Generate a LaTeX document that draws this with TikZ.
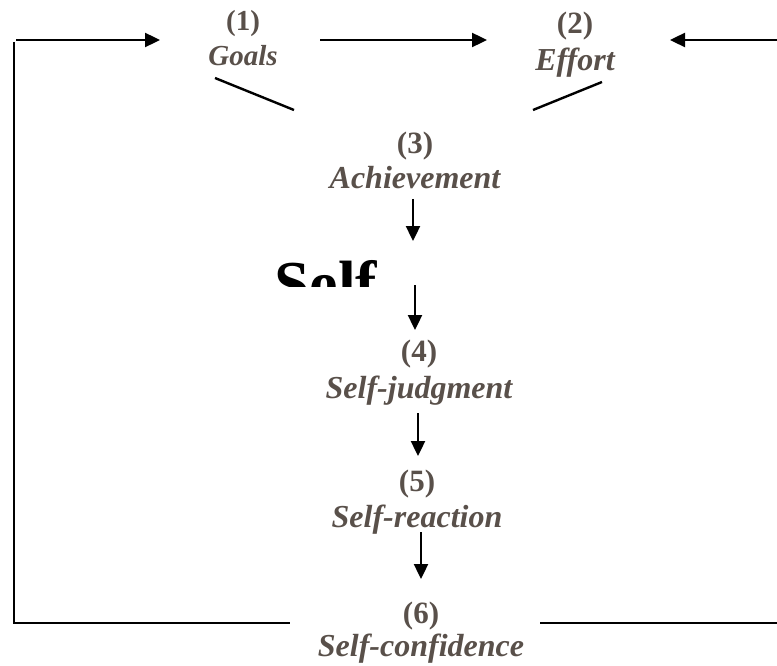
\documentclass[tikz,border=0pt]{standalone}
\usepackage{fontspec}
\setmainfont{Liberation Serif}
\usetikzlibrary{arrows.meta}
\definecolor{txt}{RGB}{89,80,74}
\begin{document}
\begin{tikzpicture}[x=1pt,y=-1pt,
  num/.style={font=\fontsize{31}{31}\selectfont\bfseries, text=txt, inner sep=0pt},
  lbl/.style={font=\fontsize{32}{32}\selectfont\bfseries\itshape, text=txt, inner sep=0pt, anchor=base},
  small/.style={font=\fontsize{29}{29}\selectfont\bfseries},
  smalli/.style={font=\fontsize{29}{29}\selectfont\bfseries\itshape},
  conn/.style={line width=2.4pt},
  arr/.style={line width=2.4pt,-{Triangle[length=15pt,width=14pt]}}]
\useasboundingbox (0,0) rectangle (777,666);
% labels
\node[num,small] (n1) at (243,24) {(1)};
\node[lbl,smalli] (l1) at (243,66) {Goals};
\node[num] (n2) at (575,26) {(2)};
\node[lbl] (l2) at (575,71) {Effort};
\node[num] (n3) at (415,146) {(3)};
\node[lbl] (l3) at (415,189) {Achievement};
\node[num] (n4) at (419,354) {(4)};
\node[lbl] (l4) at (419,398) {Self-judgment};
\node[num] (n5) at (417,484) {(5)};
\node[lbl] (l5) at (417,527) {Self-reaction};
\node[num] (n6) at (421,616) {(6)};
\node[lbl] (l6) at (421,656) {Self-confidence};
\begin{scope}
\clip (250,250) rectangle (400,286);
\node[anchor=base west, font=\fontsize{64}{64}\selectfont\bfseries, inner sep=0pt] (self) at (274,305) {Self};
\end{scope}
% coordinates
\coordinate (lt) at (14,42);
\coordinate (lb) at (14,623);
\coordinate (ta) at (16,40);
\coordinate (tb) at (160,40);
\coordinate (ge) at (320,40);
\coordinate (ef) at (487,40);
\coordinate (ra) at (777,40);
\coordinate (rb) at (670,40);
\coordinate (d1a) at (215,78);
\coordinate (d1b) at (294,110);
\coordinate (d2a) at (602,82);
\coordinate (d2b) at (533,110);
\coordinate (a1a) at (413,199);
\coordinate (a1b) at (413,241);
\coordinate (a2a) at (415,285);
\coordinate (a2b) at (415,330);
\coordinate (a3a) at (418,413);
\coordinate (a3b) at (418,456);
\coordinate (a4a) at (421,532);
\coordinate (a4b) at (421,579);
\coordinate (bl) at (290,623);
\coordinate (br1) at (540,623);
\coordinate (br2) at (777,623);
% connectors
\draw[conn] (lt) -- (lb) -- (bl);
\draw[conn] (br1) -- (br2);
\draw[arr] (ta) -- (tb);
\draw[arr] (ge) -- (ef);
\draw[arr] (ra) -- (rb);
\draw[conn] (d1a) -- (d1b);
\draw[conn] (d2a) -- (d2b);
\draw[arr] (a1a) -- (a1b);
\draw[arr] (a2a) -- (a2b);
\draw[arr] (a3a) -- (a3b);
\draw[arr] (a4a) -- (a4b);
\end{tikzpicture}
\end{document}
